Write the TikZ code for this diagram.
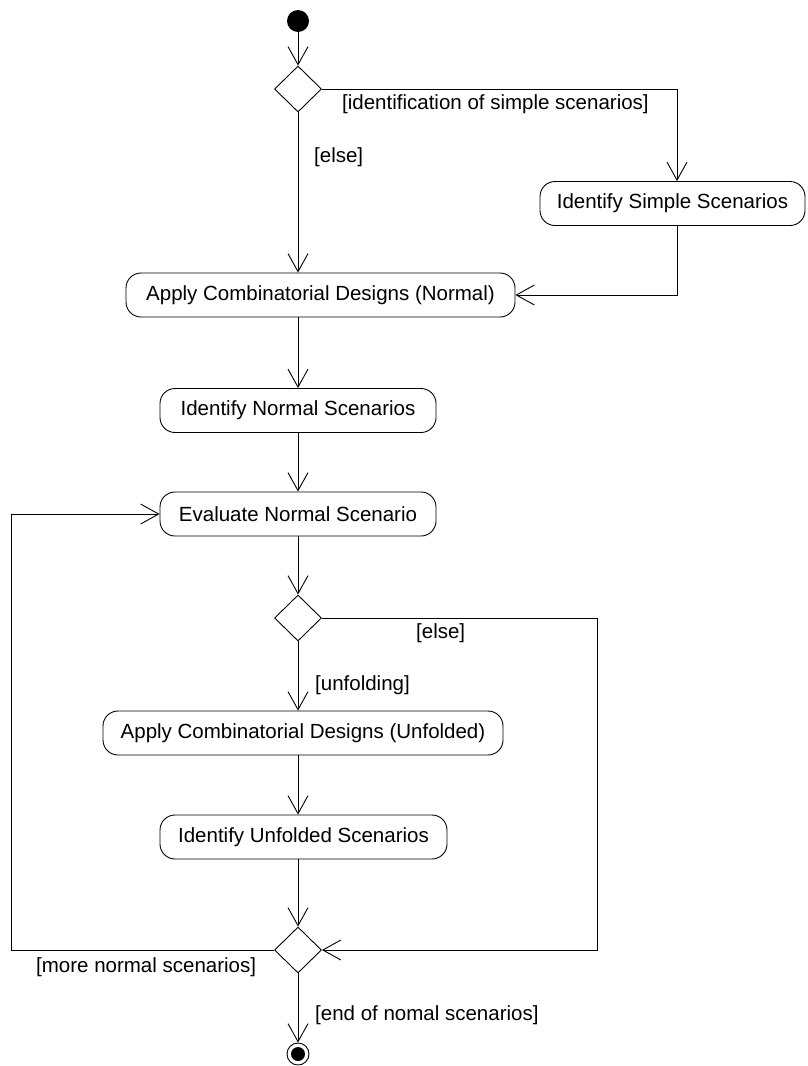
\documentclass[tikz,border=0pt]{standalone}
\usepackage{fontspec}
\setmainfont{Liberation Sans}
\usetikzlibrary{shapes.geometric,arrows.meta}
\begin{document}
\begin{tikzpicture}[x=1pt,y=-1pt,
  every node/.style={font=\fontsize{20.5}{24}\selectfont},
  act/.style={draw, rounded corners=15pt, minimum height=44pt, inner sep=0pt, line width=0.9pt},
  decision/.style={draw, diamond, minimum width=47pt, minimum height=46pt, inner sep=0pt, line width=0.9pt},
  flow/.style={line width=0.9pt, -{Straight Barb[length=18pt,width=20pt,line width=0.9pt]}},
  guard/.style={inner sep=0pt, anchor=west},
]
\useasboundingbox (0,0) rectangle (807,1066);

% control nodes
\node[circle, fill=black, minimum size=22pt, inner sep=0pt] (start) at (298,21) {};
\node[decision] (d1) at (298,89) {};
\node[decision] (d2) at (298,618) {};
\node[decision] (d3) at (298,950) {};
\node[circle, draw, line width=0.9pt, minimum size=22pt, inner sep=0pt,
      path picture={\fill (path picture bounding box.center) circle (7pt);}] (final) at (298,1054) {};

% activities
\node[act, minimum width=265pt] (simple) at (672.5,203.5) {Identify Simple Scenarios};
\node[act, minimum width=389pt] (normal) at (320.5,295) {Apply Combinatorial Designs (Normal)};
\node[act, minimum width=276pt] (idnormal) at (298,410.5) {Identify Normal Scenarios};
\node[act, minimum width=276pt] (eval) at (298,514) {Evaluate Normal Scenario};
\node[act, minimum width=400pt] (unfold) at (303,733) {Apply Combinatorial Designs (Unfolded)};
\node[act, minimum width=287pt] (idunfold) at (303.5,837) {Identify Unfolded Scenarios};

% routing columns
\coordinate (sx) at (677,0);
\coordinate (rx) at (597,0);
\coordinate (lx) at (11,0);

% flows
\draw[flow] (start) -- (d1);
\draw[flow] (d1.east) -| (simple.north -| sx);
\draw[flow] (d1.south) -- (d1.south |- normal.north);
\draw[flow] (simple.south -| sx) |- (normal.east);
\draw[flow] (normal.south -| d1) -- (d1 |- idnormal.north);
\draw[flow] (idnormal.south -| d1) -- (d1 |- eval.north);
\draw[flow] (eval.south -| d2) -- (d2.north);
\draw[flow] (d2.south) -- (d2.south |- unfold.north);
\draw[flow] (unfold.south -| d2) -- (d2 |- idunfold.north);
\draw[flow] (idunfold.south -| d2) -- (d3.north);
\draw[flow] (d2.east) -- (rx |- d2.east) -- (rx |- d3.east) -- (d3.east);
\draw[flow] (d3.west) -- (lx |- d3.west) -- (lx |- eval.west) -- (eval.west);
\draw[flow] (d3.south) -- (final.north);

% guards
\node[guard] (g1) at (342,104) {[identification of simple scenarios]};
\node[guard] (g2) at (314,157) {[else]};
\node[guard] (g3) at (416,633) {[else]};
\node[guard] (g4) at (315,685) {[unfolding]};
\node[guard] (g5) at (36,967) {[more normal scenarios]};
\node[guard] (g6) at (315,1015) {[end of nomal scenarios]};
\end{tikzpicture}
\end{document}
